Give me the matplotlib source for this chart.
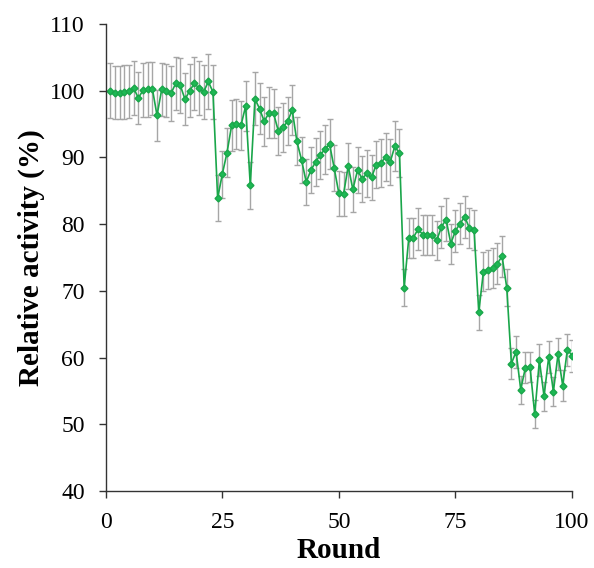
import matplotlib
matplotlib.use("Agg")
import matplotlib.pyplot as plt
import numpy as np

rounds = list(range(1, 101))
activity = [
    100.0, 99.7, 99.7, 99.8, 99.9, 100.4, 98.9, 100.1, 100.2, 100.3,
    96.3, 100.2, 100.0, 99.6, 101.1, 100.8, 98.7, 100.0, 101.1, 100.4,
    99.8, 101.4, 99.8, 83.9, 87.5, 90.7, 94.8, 95.0, 94.8, 97.7,
    85.8, 98.8, 97.3, 95.4, 96.7, 96.6, 94.0, 94.5, 95.4, 97.1,
    92.4, 89.6, 86.3, 88.1, 89.3, 90.4, 91.2, 92.0, 88.4, 84.6,
    84.5, 88.7, 85.2, 88.1, 86.8, 87.6, 87.0, 88.9, 89.2, 90.0,
    89.3, 91.7, 90.6, 70.5, 78.0, 78.0, 79.3, 78.4, 78.4, 78.4,
    77.6, 79.6, 80.7, 77.1, 79.0, 80.1, 81.1, 79.4, 79.1, 66.8,
    72.9, 73.2, 73.4, 74.1, 75.2, 70.5, 59.1, 60.9, 55.2, 58.5,
    58.6, 51.5, 59.6, 54.2, 60.1, 54.9, 60.5, 55.8, 61.2, 60.3,
]
errors = [
    4.1, 4.0, 4.0, 4.0, 4.0, 4.1, 3.9, 4.0, 4.1, 4.0,
    3.8, 4.0, 4.0, 4.1, 4.0, 4.1, 3.9, 4.0, 4.0, 4.1,
    4.0, 4.1, 4.0, 3.4, 3.5, 3.7, 3.8, 3.8, 3.7, 3.8,
    3.5, 4.0, 3.8, 3.7, 3.8, 3.7, 3.6, 3.7, 3.6, 3.8,
    3.6, 3.5, 3.4, 3.5, 3.6, 3.6, 3.7, 3.7, 3.5, 3.3,
    3.3, 3.5, 3.3, 3.5, 3.4, 3.5, 3.4, 3.5, 3.6, 3.6,
    3.5, 3.7, 3.6, 2.8, 3.0, 3.0, 3.1, 3.0, 3.0, 3.0,
    2.9, 3.1, 3.2, 3.0, 3.1, 3.1, 3.2, 3.0, 3.0, 2.6,
    2.9, 2.9, 3.0, 3.1, 3.1, 2.8, 2.3, 2.4, 2.1, 2.3,
    2.3, 2.1, 2.4, 2.2, 2.4, 2.2, 2.4, 2.3, 2.4, 2.4,
]

x_ticks = [0, 25, 50, 75, 100]
y_ticks = [40, 50, 60, 70, 80, 90, 100, 110]

plt.rcParams['font.family'] = ['Liberation Serif', 'DejaVu Serif']

fig = plt.figure(figsize=(5.94, 5.68), dpi=100)
ax = fig.add_axes([0.178, 0.1356, 0.785, 0.822])

ax.errorbar(rounds, activity, yerr=errors, fmt='none', ecolor='#a6a6a6',
            elinewidth=1.0, capsize=2.5, capthick=1.0, zorder=1)
ax.plot(rounds, activity, color='#1aa64a', lw=1.2, marker='D', ms=3.5,
        markerfacecolor='#1db954', markeredgecolor='#1aa64a', zorder=2)

ax.set_xlim(0, 100)
ax.set_ylim(40, 110)
ax.set_xticks(x_ticks)
ax.set_yticks(y_ticks)
ax.tick_params(direction='out', length=5, width=1.0, labelsize=17,
               color='#333333', pad=10)
ax.spines['top'].set_visible(False)
ax.spines['right'].set_visible(False)
for s in ('left', 'bottom'):
    ax.spines[s].set_linewidth(1.0)
    ax.spines[s].set_color('#333333')

ax.set_xlabel('Round', fontsize=21, fontweight='bold', labelpad=3)
ax.set_ylabel('Relative activity (%)', fontsize=21, fontweight='bold', labelpad=3)

fig.savefig('out.png', dpi=100)
